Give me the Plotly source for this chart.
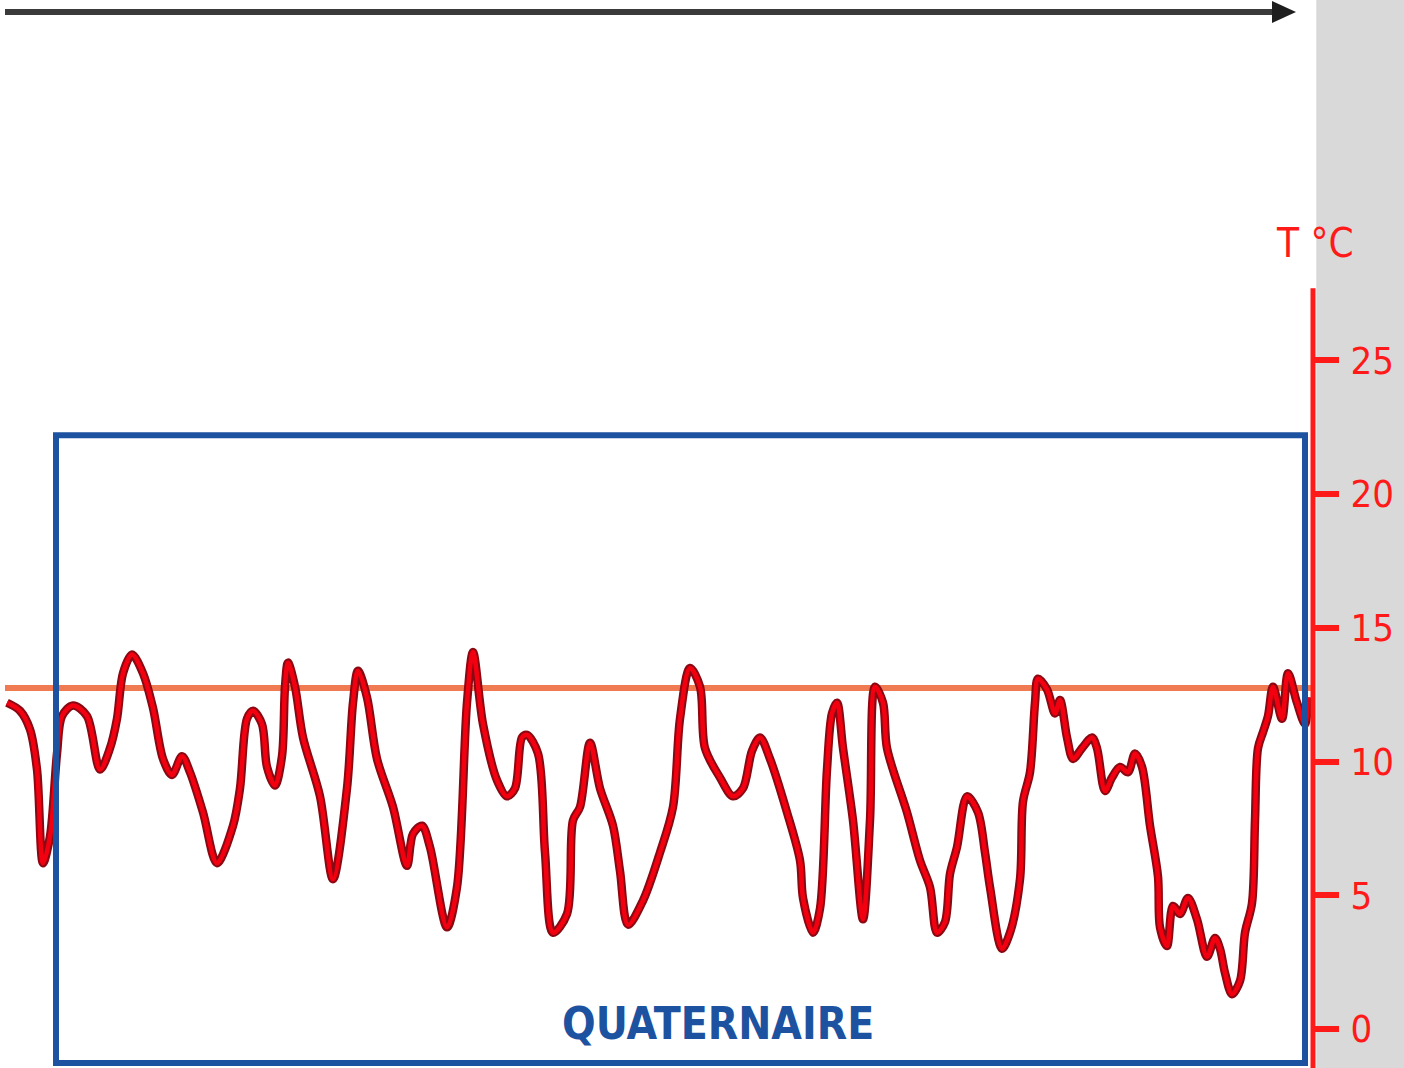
import plotly.graph_objects as go

# Position along the time arrow (arbitrary units, left = older)
t = [7, 20, 30, 37, 43, 50, 57, 62, 73, 87, 100, 110, 117, 123, 132, 143, 153, 163, 172, 182,
     190, 203, 217, 233, 240, 247, 253, 262, 267, 275, 282, 285, 288, 295, 303, 320, 333, 347,
     353, 358, 367, 377, 393, 407, 413, 422, 430, 447, 457, 467, 473, 483, 497, 507, 515, 522,
     527, 538, 545, 553, 567, 573, 580, 590, 600, 613, 620, 628, 643, 660, 673, 680, 690, 700,
     705, 720, 733, 743, 752, 760, 770, 787, 800, 803, 813, 820, 827, 832, 837, 843, 853, 863,
     870, 875, 883, 887, 907, 920, 930, 937, 945, 950, 957, 967, 978, 985, 990, 1002, 1010,
     1020, 1023, 1030, 1035, 1038, 1047, 1055, 1060, 1067, 1073, 1082, 1092, 1097, 1105, 1112,
     1120, 1128, 1135, 1142, 1150, 1158, 1160, 1167, 1173, 1180, 1188, 1197, 1207, 1215, 1220,
     1225, 1232, 1240, 1245, 1252, 1255, 1258, 1263, 1268, 1273, 1282, 1288, 1297, 1305, 1308]

# Mean temperature (°C)
temp = [12.2, 11.9, 11.2, 9.7, 6.2, 7.2, 10.3, 11.7, 12.1, 11.7, 9.7, 10.5, 11.6, 13.3, 14.0,
        13.3, 12.0, 10.1, 9.5, 10.2, 9.6, 8.1, 6.2, 7.6, 9.0, 11.6, 11.9, 11.4, 9.8, 9.1, 10.2,
        12.8, 13.7, 12.8, 10.9, 8.7, 5.6, 9.0, 12.2, 13.4, 12.4, 10.1, 8.3, 6.1, 7.3, 7.6, 6.8,
        3.8, 5.3, 12.2, 14.1, 11.4, 9.3, 8.7, 9.0, 10.9, 11.0, 10.3, 6.6, 3.6, 4.3, 7.8, 8.3,
        10.7, 9.0, 7.6, 5.9, 3.9, 4.8, 6.6, 8.3, 11.6, 13.5, 12.8, 10.5, 9.4, 8.7, 9.0, 10.4,
        10.9, 10.1, 8.1, 6.3, 4.9, 3.6, 4.5, 9.7, 11.8, 12.2, 10.5, 7.8, 4.1, 7.8, 12.8, 12.2,
        10.5, 8.1, 6.3, 5.3, 3.6, 4.0, 5.8, 6.8, 8.7, 8.1, 6.6, 5.3, 3.0, 3.6, 5.6, 8.5, 9.6,
        12.2, 13.1, 12.7, 11.8, 12.3, 10.9, 10.1, 10.5, 10.9, 10.5, 8.9, 9.4, 9.8, 9.6, 10.3,
        9.8, 7.6, 5.7, 3.8, 3.1, 4.6, 4.3, 4.9, 4.1, 2.7, 3.4, 3.0, 2.1, 1.3, 1.8, 3.6, 4.7,
        7.8, 10.5, 11.1, 11.7, 12.8, 11.6, 13.3, 12.2, 11.4, 12.4]

reference_temp = 12.75          # present-day level
period_label = "QUATERNAIRE"
period_start, period_end = 56, 1305
period_top, period_bottom = 22.2, -1.27

tick_values = [0, 5, 10, 15, 20, 25]
tick_labels = ["0", "5", "10", "15", "20", "25"]
axis_title = "T °C"

x_range = [0, 1313]
y_range = [-1.46, 38.48]
axis_top = 27.7

RED = "#ff1a1a"
BLUE = "#1c52a0"
NARROW = "DejaVu Sans Condensed, DejaVu Sans, sans-serif"

fig = go.Figure()

# Temperature curve: dark outline under a bright red core
fig.add_trace(go.Scatter(x=t, y=temp, mode="lines",
                         line=dict(color="#8a0812", width=8.5, shape="spline", smoothing=0.9),
                         hoverinfo="skip", showlegend=False))
fig.add_trace(go.Scatter(x=t, y=temp, mode="lines",
                         line=dict(color="#f20010", width=4.5, shape="spline", smoothing=0.9),
                         showlegend=False))

shapes = [
    # grey band behind the temperature scale
    dict(type="rect", xref="paper", yref="paper", x0=1.0025, x1=1.08, y0=0, y1=1,
         fillcolor="#d9d9d9", line=dict(width=0), layer="below"),
    # present-day reference line
    dict(type="line", xref="x", yref="y", x0=5, x1=x_range[1], y0=reference_temp,
         y1=reference_temp, line=dict(color="#f07a52", width=6), layer="below"),
    # Quaternary frame
    dict(type="rect", xref="x", yref="y", x0=period_start, x1=period_end,
         y0=period_bottom, y1=period_top, line=dict(color=BLUE, width=6)),
    # temperature axis line
    dict(type="line", xref="paper", yref="y", x0=1, x1=1, y0=y_range[0], y1=axis_top,
         line=dict(color=RED, width=5)),
    # time arrow
    dict(type="line", xref="paper", yref="paper", x0=5 / 1313, x1=1276 / 1313,
         y0=1 - 12 / 1068, y1=1 - 12 / 1068, line=dict(color="#3a3a3a", width=6)),
    dict(type="path", xref="paper", yref="paper",
         path=f"M {1272/1313},{1 - 1/1068} L {1296/1313},{1 - 12/1068} L {1272/1313},{1 - 23/1068} Z",
         fillcolor="#1e1e1e", line=dict(width=0)),
]

annotations = [
    dict(text=period_label, xref="x", yref="y", x=(period_start + period_end) / 2 + 37,
         y=0.2, showarrow=False,
         font=dict(family=NARROW, size=44, color=BLUE, weight="bold")),
    dict(text=axis_title, xref="paper", yref="y", x=1.0015, y=29.4, showarrow=False,
         xanchor="center", yanchor="middle",
         font=dict(family=NARROW, size=40, color=RED)),
]

fig.update_layout(
    width=1404, height=1068,
    margin=dict(l=0, r=91, t=0, b=0),
    paper_bgcolor="white", plot_bgcolor="white",
    shapes=shapes, annotations=annotations,
    xaxis=dict(range=x_range, visible=False, fixedrange=True),
    yaxis=dict(range=y_range, side="right", showgrid=False, zeroline=False, showline=False,
               ticks="outside", ticklen=25, tickwidth=6, tickcolor=RED,
               tickvals=tick_values, ticktext=tick_labels, ticklabelstandoff=4,
               tickfont=dict(family=NARROW, size=38, color=RED), fixedrange=True),
    showlegend=False,
)

fig.write_html("out.html")
